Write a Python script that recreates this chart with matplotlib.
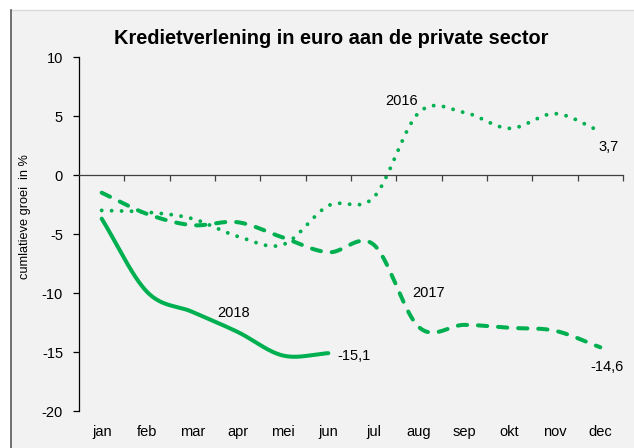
import numpy as np
import matplotlib
matplotlib.use('Agg')
import matplotlib.pyplot as plt
from matplotlib.patches import Rectangle
from matplotlib.lines import Line2D

plt.rcParams['font.family'] = ['Liberation Sans', 'DejaVu Sans']

months = ['jan', 'feb', 'mar', 'apr', 'mei', 'jun', 'jul', 'aug', 'sep', 'okt', 'nov', 'dec']
y2016 = [-3.0, -3.15, -3.7, -5.2, -5.9, -2.6, -1.9, 5.3, 5.3, 3.95, 5.2, 3.7]
y2017 = [-1.5, -3.3, -4.25, -4.0, -5.3, -6.55, -5.9, -12.9, -12.7, -12.95, -13.2, -14.6]
y2018 = [-3.7, -9.9, -11.6, -13.3, -15.3, -15.1]
yticks = [-20, -15, -10, -5, 0, 5, 10]

title = 'Kredietverlening in euro aan de private sector'
ylabel = 'cumlatieve groei  in %'
green = '#00B050'


def smooth(vals, n=40):
    """Excel-like smoothed line (Catmull-Rom / cubic Hermite)."""
    p = np.asarray(vals, float)
    m = np.empty_like(p)
    m[1:-1] = (p[2:] - p[:-2]) / 2
    m[0] = p[1] - p[0]
    m[-1] = p[-1] - p[-2]
    t = np.linspace(0, 1, n, endpoint=False)
    h00 = 2 * t**3 - 3 * t**2 + 1
    h10 = t**3 - 2 * t**2 + t
    h01 = -2 * t**3 + 3 * t**2
    h11 = t**3 - t**2
    xs, ys = [], []
    for i in range(len(p) - 1):
        xs.append(i + t)
        ys.append(h00 * p[i] + h10 * m[i] + h01 * p[i + 1] + h11 * m[i + 1])
    xs.append([len(p) - 1])
    ys.append([p[-1]])
    return np.concatenate(xs), np.concatenate(ys)


W, H = 634, 448
fig = plt.figure(figsize=(W / 100, H / 100), dpi=100)
fig.patch.set_facecolor('white')
# chart area background with border
fig.patches.append(Rectangle((11 / W, 0), 1 - 11 / W, 1 - 10 / H, transform=fig.transFigure,
                             facecolor='#F2F2F2', edgecolor='none', zorder=-2))
fig.lines.append(Line2D([11 / W, 1], [1 - 10 / H, 1 - 10 / H], transform=fig.transFigure,
                        color='#D9D9D9', lw=1, zorder=-1))
fig.lines.append(Line2D([11 / W, 11 / W], [0, 1 - 10 / H], transform=fig.transFigure,
                        color='#595959', lw=1.2, zorder=-1))

ax = fig.add_axes([79 / W, 1 - 411 / H, 544 / W, 354 / H])
ax.set_zorder(1)
ax.set_facecolor('none')
ax.set_xlim(-0.5, 11.5)
ax.set_ylim(-20, 10)

for s in ['top', 'right']:
    ax.spines[s].set_visible(False)
ax.spines['left'].set_color('#000000')
ax.spines['left'].set_linewidth(0.9)
ax.spines['bottom'].set_position(('data', 0))
ax.spines['bottom'].set_color('#404040')
ax.spines['bottom'].set_linewidth(0.9)

ax.set_xticks(np.arange(0.5, 11.6, 1))
ax.set_xticklabels([])
ax.tick_params(axis='x', direction='out', length=4, width=0.9, color='#404040')
ax.set_yticks(yticks)
ax.set_yticklabels([str(v) for v in yticks])
ax.tick_params(axis='y', direction='out', length=4.5, width=0.9, labelsize=10.5, pad=7)

for i, mth in enumerate(months):
    ax.text(i, -0.06, mth, transform=ax.get_xaxis_transform(), ha='center', va='center',
            fontsize=10.5, color='#000000')

x16, s16 = smooth(y2016)
ax.plot(x16, s16, color=green, lw=2.8, linestyle=(0, (0.01, 2.55)),
        dash_capstyle='round', solid_capstyle='round')
x17, s17 = smooth(y2017)
ax.plot(x17, s17, color=green, lw=2.9, linestyle=(0, (2.3, 2.7)),
        dash_capstyle='round')
x18, s18 = smooth(y2018)
ax.plot(x18, s18, color=green, lw=2.9, solid_capstyle='round')

fs = 10.5
ax.text(6.62, 6.27, '2016', ha='center', va='center', fontsize=fs)
ax.text(11.19, 2.37, '3,7', ha='center', va='center', fontsize=fs)
ax.text(7.2, -10.0, '2017', ha='center', va='center', fontsize=fs)
ax.text(2.9, -11.7, '2018', ha='center', va='center', fontsize=fs)
ax.text(5.57, -15.3, '-15,1', ha='center', va='center', fontsize=fs)
ax.text(11.15, -16.3, '-14,6', ha='center', va='center', fontsize=fs)

fig.text(331 / W, 1 - 38 / H, title, ha='center', va='center', fontsize=14.4, fontweight='bold')
fig.text(25 / W, 1 - 217 / H, ylabel, ha='center', va='center', rotation=90, fontsize=9.2)

fig.savefig('out.png', dpi=100)
